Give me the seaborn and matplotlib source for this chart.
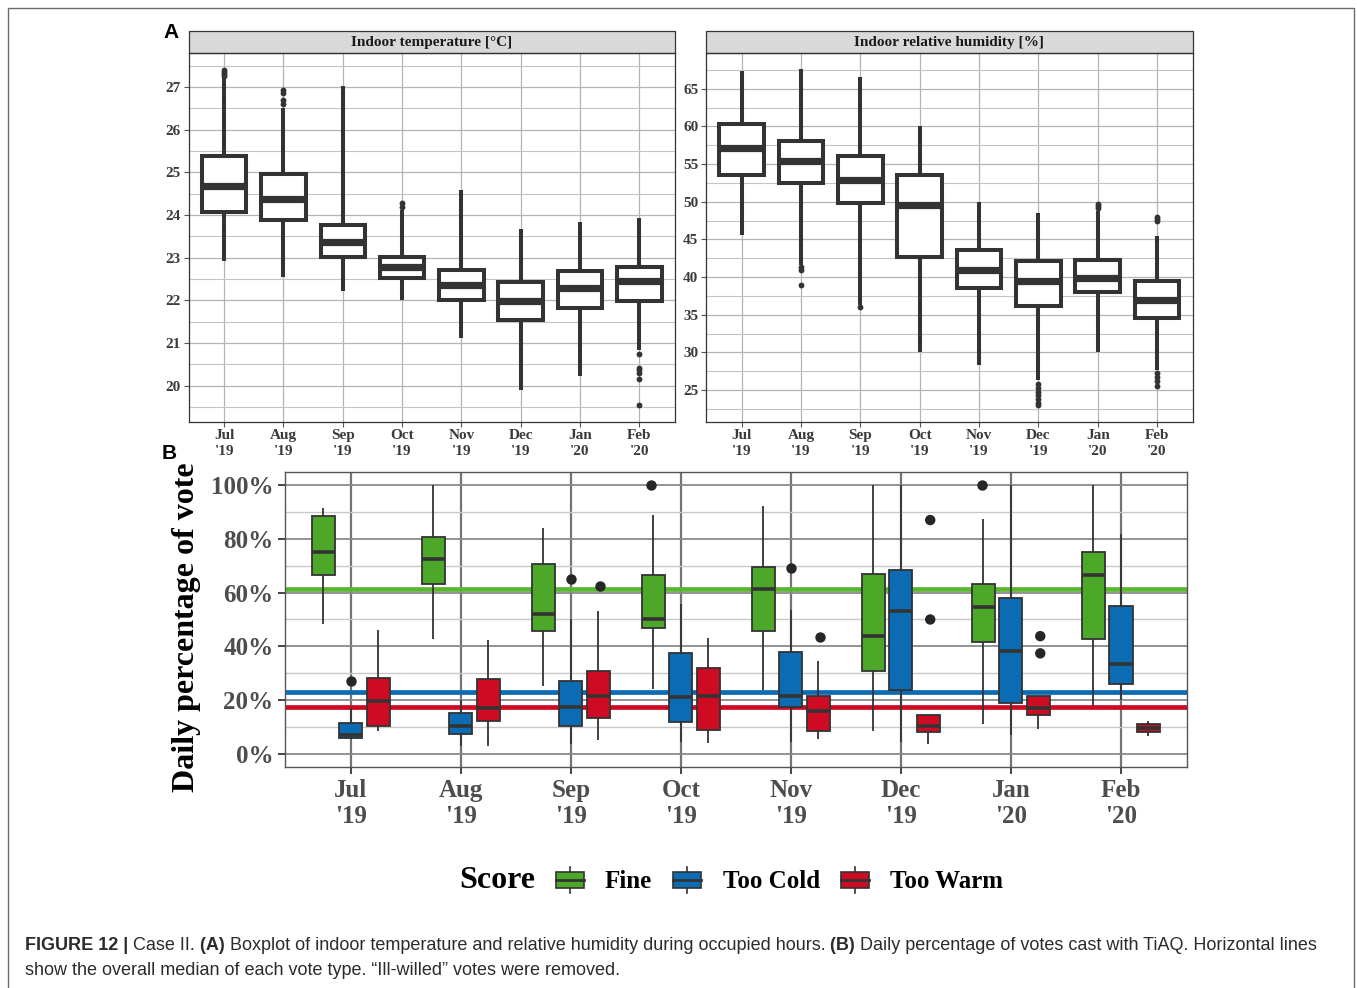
import numpy as np
import pandas as pd
import matplotlib
matplotlib.use("Agg")
import matplotlib.pyplot as plt
import matplotlib.ticker as mticker
import seaborn as sns
from matplotlib.legend_handler import HandlerBase
from matplotlib.patches import Rectangle, Patch
from matplotlib.lines import Line2D
from matplotlib import font_manager

# ---------------------------------------------------------------- data
months = ["Jul\n'19", "Aug\n'19", "Sep\n'19", "Oct\n'19",
          "Nov\n'19", "Dec\n'19", "Jan\n'20", "Feb\n'20"]

# Indoor temperature [°C]: whisker ends, quartiles, median, outliers
temp_lo = [22.93, 22.55, 22.22, 22.00, 21.13, 19.91, 20.24, 20.83]
temp_q1 = [24.07, 23.88, 23.02, 22.53, 22.00, 21.55, 21.83, 21.98]
temp_med = [24.68, 24.37, 23.37, 22.78, 22.36, 21.98, 22.30, 22.46]
temp_q3 = [25.38, 24.96, 23.76, 23.02, 22.72, 22.43, 22.69, 22.78]
temp_hi = [27.20, 26.52, 27.02, 24.12, 24.58, 23.67, 23.84, 23.93]
temp_out = [[27.25, 27.30, 27.35, 27.40], [26.60, 26.70, 26.85, 26.94], [],
            [24.20, 24.28], [], [], [],
            [20.75, 20.42, 20.36, 20.31, 20.17, 19.55]]

# Indoor relative humidity [%]
rh_lo = [45.6, 41.6, 36.3, 30.0, 28.3, 26.3, 30.0, 27.7]
rh_q1 = [53.5, 52.55, 49.8, 42.6, 38.5, 36.2, 38.0, 34.5]
rh_med = [57.1, 55.4, 52.9, 49.6, 41.0, 39.5, 39.9, 37.0]
rh_q3 = [60.3, 58.0, 56.1, 53.5, 43.6, 42.1, 42.3, 39.5]
rh_hi = [67.4, 67.6, 66.5, 60.0, 49.9, 48.5, 48.8, 45.4]
rh_out = [[], [41.3, 41.0, 39.0], [36.0], [], [],
          [25.8, 25.3, 24.8, 24.3, 23.8, 23.3, 23.0],
          [49.1, 49.4, 49.7],
          [47.4, 47.7, 48.0, 27.2, 26.7, 26.2, 25.5]]

# Daily percentage of votes per score
scores = ["Fine", "Too Cold", "Too Warm"]

fine_lo = [48.3, 42.6, 25.1, 24.0, 23.6, 8.6, 11.2, 17.9]
fine_q1 = [66.4, 63.1, 45.9, 46.9, 45.9, 31.0, 41.7, 42.8]
fine_med = [75.1, 72.6, 52.2, 50.0, 61.2, 44.0, 54.7, 66.7]
fine_q3 = [88.5, 80.6, 70.5, 66.4, 69.6, 66.9, 63.3, 75.1]
fine_hi = [91.5, 100.0, 84.1, 88.9, 92.2, 100.0, 87.4, 100.0]
fine_out = [[], [], [], [100.0], [], [], [100.0], []]

cold_lo = [5.5, 3.1, 3.5, 4.3, 4.6, 4.3, 7.2, 20.0]
cold_q1 = [6.0, 7.5, 10.5, 11.7, 17.5, 23.7, 19.0, 25.9]
cold_med = [6.9, 10.5, 17.3, 21.1, 21.4, 53.1, 38.3, 33.6]
cold_q3 = [11.5, 15.2, 27.3, 37.7, 37.9, 68.3, 58.0, 55.2]
cold_hi = [17.0, 19.9, 50.0, 55.9, 53.7, 100.0, 100.0, 81.9]
cold_out = [[27.3], [], [65.2], [], [69.3], [], [], []]

warm_lo = [8.4, 3.1, 5.1, 4.1, 5.6, 3.7, 9.3, 6.8]
warm_q1 = [10.2, 12.3, 13.2, 8.9, 8.5, 8.3, 14.3, 8.3]
warm_med = [19.5, 17.0, 21.4, 21.7, 16.0, 10.2, 17.0, 9.5]
warm_q3 = [28.4, 27.9, 30.9, 32.1, 21.4, 14.6, 21.4, 11.2]
warm_hi = [46.0, 42.3, 53.3, 43.3, 34.6, 14.9, 21.7, 12.3]
warm_out = [[], [], [62.5], [], [43.5], [87.0, 50.0], [43.8, 37.4], []]

overall_median = [61.2, 23.0, 17.4]
score_colors = ["#4DA829", "#0B6CB3", "#CF0A23"]
median_line_colors = ["#5DB536", "#0B6CB3", "#CF0A23"]

# ---------------------------------------------------------------- tables
def summary_frame(lo, q1, med, q3, hi, **tags):
    rows = []
    for i, m in enumerate(months):
        for v in (lo[i], q1[i], med[i], q3[i], hi[i]):
            rows.append({"month": m, "value": v, **tags})
    return pd.DataFrame(rows)


def outlier_frame(out, **tags):
    rows = [{"month": m, "value": v, **tags}
            for m, vals in zip(months, out) for v in vals]
    return pd.DataFrame(rows, columns=["month", "value", *tags])


temp_df = summary_frame(temp_lo, temp_q1, temp_med, temp_q3, temp_hi)
temp_out_df = outlier_frame(temp_out)
rh_df = summary_frame(rh_lo, rh_q1, rh_med, rh_q3, rh_hi)
rh_out_df = outlier_frame(rh_out)

vote_df = pd.concat([
    summary_frame(fine_lo, fine_q1, fine_med, fine_q3, fine_hi, score="Fine"),
    summary_frame(cold_lo, cold_q1, cold_med, cold_q3, cold_hi, score="Too Cold"),
    summary_frame(warm_lo, warm_q1, warm_med, warm_q3, warm_hi, score="Too Warm"),
], ignore_index=True)
vote_out_df = pd.concat([
    outlier_frame(fine_out, score="Fine"),
    outlier_frame(cold_out, score="Too Cold"),
    outlier_frame(warm_out, score="Too Warm"),
], ignore_index=True)

palette = dict(zip(scores, score_colors))

# ---------------------------------------------------------------- figure
W, H = 1357, 988
SERIF = "Liberation Serif"
SANS = "Liberation Sans"
plt.rcParams["font.family"] = [SERIF, "DejaVu Serif"]
plt.rcParams["axes.axisbelow"] = True

fig = plt.figure(figsize=(W / 100, H / 100), dpi=100)
fig.patch.set_facecolor("white")


def px_axes(left, top, right, bottom):
    return fig.add_axes([left / W, 1 - bottom / H, (right - left) / W, (bottom - top) / H])


DARK = "#333333"


def style_top_panel(ax, title, ylim, major, minor):
    ax.set_xlim(-0.6, len(months) - 0.4)
    ax.set_ylim(*ylim)
    ax.set_yticks(major)
    ax.set_yticks(minor, minor=True)
    ax.grid(which="major", axis="both", color="#b4b4b4", lw=0.9)
    ax.grid(which="minor", axis="y", color="#c4c4c4", lw=0.8)
    ax.tick_params(which="minor", length=0)
    ax.tick_params(which="major", length=3.5, width=0.8, color="#555555",
                   labelsize=11, labelcolor="#3a3a3a", pad=2)
    for lab in ax.get_xticklabels() + ax.get_yticklabels():
        lab.set_fontweight("bold")
    for lab in ax.get_xticklabels():
        lab.set_linespacing(1.3)
    for sp in ax.spines.values():
        sp.set_color(DARK)
        sp.set_linewidth(0.9)
    ax.set_xlabel("")
    ax.set_ylabel("")
    # facet strip
    strip_h = 22.5 / (421.7 - 53.3)
    ax.add_patch(Rectangle((0, 1), 1, strip_h, transform=ax.transAxes,
                           facecolor="#d9d9d9", edgecolor=DARK, lw=0.9,
                           clip_on=False))
    ax.text(0.5, 1 + strip_h / 2, title, transform=ax.transAxes,
            ha="center", va="center", fontsize=11, fontweight="bold",
            color="#1a1a1a")


def draw_top(ax, df, out_df):
    sns.boxplot(data=df, x="month", y="value", order=months, ax=ax,
                color="white", linecolor=DARK, linewidth=2.9, width=0.75,
                whis=(0, 100), showcaps=False, showfliers=False,
                medianprops=dict(linewidth=5.2), legend=False)
    sns.stripplot(data=out_df, x="month", y="value", order=months, ax=ax,
                  jitter=False, color=DARK, size=4.2, linewidth=0,
                  zorder=4, legend=False)


# Panel A: temperature
ax1 = px_axes(188.5, 53.3, 675, 421.7)
draw_top(ax1, temp_df, temp_out_df)
style_top_panel(ax1, "Indoor temperature [°C]", (19.16, 27.79),
                np.arange(20, 28, 1), np.arange(19.5, 28, 1))

# Panel A: relative humidity
ax2 = px_axes(706, 53.3, 1192.7, 421.7)
draw_top(ax2, rh_df, rh_out_df)
style_top_panel(ax2, "Indoor relative humidity [%]", (20.8, 69.7),
                np.arange(25, 70, 5), np.arange(22.5, 70, 5))

# Panel B: daily vote percentages
B_LEFT, B_TOP, B_RIGHT, B_BOTTOM = 284.6, 471.7, 1187, 767.3
axb = px_axes(B_LEFT, B_TOP, B_RIGHT, B_BOTTOM)
for val, col in zip(overall_median, median_line_colors):
    axb.axhline(val, color=col, lw=3.4, zorder=1.5)
sns.boxplot(data=vote_df, x="month", y="value", hue="score", order=months,
            hue_order=scores, palette=palette, saturation=1, ax=axb,
            linecolor=DARK, linewidth=1.3, width=0.75, gap=0.16,
            whis=(0, 100), showcaps=False, showfliers=False,
            medianprops=dict(linewidth=2.6), legend=False)
sns.stripplot(data=vote_out_df, x="month", y="value", hue="score",
              order=months, hue_order=scores, dodge=True, jitter=False,
              palette={s: "#262626" for s in scores}, size=7.5, linewidth=0,
              zorder=4, legend=False, ax=axb)
axb.set_xlim(-0.6, len(months) - 0.4)
axb.set_ylim(-5, 105)
axb.set_yticks(np.arange(0, 101, 20))
axb.set_yticks(np.arange(10, 100, 20), minor=True)
axb.yaxis.set_major_formatter(mticker.PercentFormatter(100, decimals=0))
axb.grid(which="major", axis="y", color="#8a8a8a", lw=1.3)
axb.grid(which="minor", axis="y", color="#c8c8c8", lw=1.0)
axb.grid(which="major", axis="x", color="#747474", lw=1.6)
axb.tick_params(which="minor", length=0)
axb.tick_params(which="major", length=5, width=1.4, color="#444444",
                labelsize=18, labelcolor="#4d4d4d", pad=3)
axb.tick_params(axis="x", pad=3.5)
for lab in axb.get_xticklabels() + axb.get_yticklabels():
    lab.set_fontweight("bold")
for lab in axb.get_xticklabels():
    lab.set_linespacing(1.14)
for sp in axb.spines.values():
    sp.set_color("#555555")
    sp.set_linewidth(1.0)
axb.set_xlabel("")
axb.set_ylabel("Daily percentage of vote", fontsize=23, fontweight="bold",
               color="black")
# label anchor: right edge of the rotated text, centre a bit below the panel centre
axb.yaxis.set_label_coords(-(B_LEFT - 201) / (B_RIGHT - B_LEFT),
                           (B_BOTTOM - 627) / (B_BOTTOM - B_TOP))


# ---------------------------------------------------------------- legend
class BoxKey(HandlerBase):
    def create_artists(self, legend, orig_handle, xdescent, ydescent,
                       width, height, fontsize, trans):
        x0, y0 = -xdescent, -ydescent
        cx = x0 + width / 2
        box_lo, box_hi = y0 + 0.2 * height, y0 + 0.8 * height
        stub_lo = Line2D([cx, cx], [y0, box_lo], color=DARK, lw=1.2, transform=trans)
        stub_hi = Line2D([cx, cx], [box_hi, y0 + height], color=DARK, lw=1.2, transform=trans)
        rect = Rectangle((x0, box_lo), width, box_hi - box_lo,
                         facecolor=orig_handle.get_facecolor(), edgecolor=DARK,
                         lw=1.2, transform=trans)
        med = Line2D([x0, x0 + width], [y0 + height / 2] * 2, color=DARK,
                     lw=2.0, transform=trans)
        return [stub_lo, stub_hi, rect, med]


handles = [Patch(facecolor=c, edgecolor=DARK) for c in score_colors]
leg_y = 1 - 880 / H
fig.legend(handles, scores, handler_map={Patch: BoxKey()},
           loc="center left", bbox_to_anchor=(555.6 / W, leg_y),
           ncol=3, frameon=False, borderpad=0, borderaxespad=0,
           handlelength=1.12, handleheight=1.25, handletextpad=0.85,
           columnspacing=0.85,
           prop=dict(family=SERIF, weight="bold", size=18))
fig.text(459 / W, leg_y, "Score", ha="left", va="center", fontsize=23,
         fontweight="bold", color="black")

# ---------------------------------------------------------------- labels
fig.text(163 / W, 1 - 33 / H, "A", ha="left", va="center", fontsize=15,
         fontweight="bold", family=SANS)
fig.text(162 / W, 1 - 453 / H, "B", ha="left", va="center", fontsize=15,
         fontweight="bold", family=SANS)

# outer frame
fig.add_artist(Rectangle((8 / W, -0.02), (1354 - 8) / W, 1 - 8 / H + 0.02,
                         transform=fig.transFigure, fill=False,
                         edgecolor="#6b6b6b", lw=1.0))

# ---------------------------------------------------------------- caption
available = {f.name for f in font_manager.fontManager.ttflist}
cap_family = "Liberation Sans Narrow" if "Liberation Sans Narrow" in available else SANS
cap_color = "#2b2b2b"

line1 = [("FIGURE 12 |", "bold"), (" Case II.", "normal"), (" (A)", "bold"),
         (" Boxplot of indoor temperature and relative humidity during occupied hours.", "normal"),
         (" (B)", "bold"),
         (" Daily percentage of votes cast with TiAQ. Horizontal lines", "normal")]
line2 = [("show the overall median of each vote type. \u201cIll-willed\u201d votes were removed.", "normal")]

renderer = fig.canvas.get_renderer()


def place_runs(runs, x0, baseline, size):
    x = x0
    made = []
    for txt, weight in runs:
        t = fig.text(x / W, 1 - baseline / H, txt, fontsize=size,
                     fontweight=weight, family=cap_family, color=cap_color,
                     ha="left", va="baseline")
        x = t.get_window_extent(renderer=renderer).x1
        made.append(t)
    return x, made


end, tmp = place_runs(line1, 25, 950, 12)
for t in tmp:
    t.remove()
cap_size = 12 * (1322 - 25) / (end - 25)
place_runs(line1, 25, 950, cap_size)
place_runs(line2, 25, 975, cap_size)

fig.savefig("out.png", dpi=100, facecolor="white")
